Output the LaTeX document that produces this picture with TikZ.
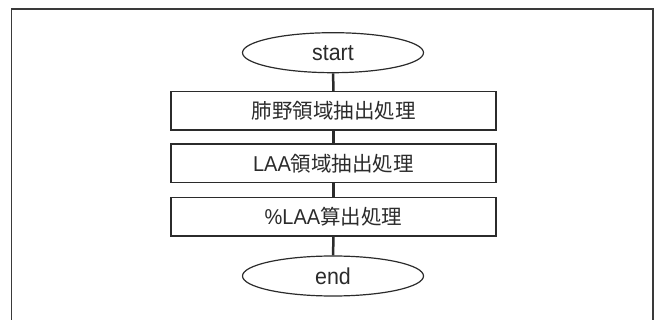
\documentclass[tikz,border=0pt]{standalone}
\usepackage{fontspec}
\setmainfont{Liberation Sans}[FakeStretch=0.93]
\newfontfamily\cjk{Noto Sans CJK JP}
\usetikzlibrary{shapes.geometric}
\definecolor{ink}{HTML}{2B2B2B}
\definecolor{frame}{HTML}{3A3A3A}
\tikzset{
  terminal/.style={ellipse, draw=ink, line width=1.2pt, minimum width=181pt, minimum height=40pt, inner sep=0pt, font=\fontsize{23}{26}\selectfont, text=ink},
  procbox/.style={rectangle, draw=ink, line width=1.5pt, minimum width=325pt, minimum height=38.5pt, inner sep=0pt, font=\fontsize{21.5}{24}\selectfont, text=ink},
  link/.style={draw=ink, line width=2.5pt}
}
\begin{document}
\begin{tikzpicture}[x=1pt,y=-1pt]
\useasboundingbox (0,0) rectangle (656,320);
\fill[white] (0,0) rectangle (656,320);
\draw[frame, line width=1.5pt] (11.5,330) -- (11.5,9) -- (653,9) -- (653,330);
\node[terminal] (start) at (333,52.7) {start};
\node[procbox] (b1) at (333.5,111) {{\fontsize{20.5}{24}\selectfont\cjk 肺野領域抽出処理}};
\node[procbox] (b2) at (333.5,163.5) {LAA{\fontsize{20.5}{24}\selectfont\cjk 領域抽出処理}};
\node[procbox] (b3) at (333.5,216.7) {\%LAA{\fontsize{20.5}{24}\selectfont\cjk 算出処理}};
\node[terminal] (end) at (333,276) {end};
\draw[link] (start) -- (b1);
\draw[link] (b1) -- (b2);
\draw[link] (b2) -- (b3);
\draw[link] (b3) -- (end);
\end{tikzpicture}
\end{document}
